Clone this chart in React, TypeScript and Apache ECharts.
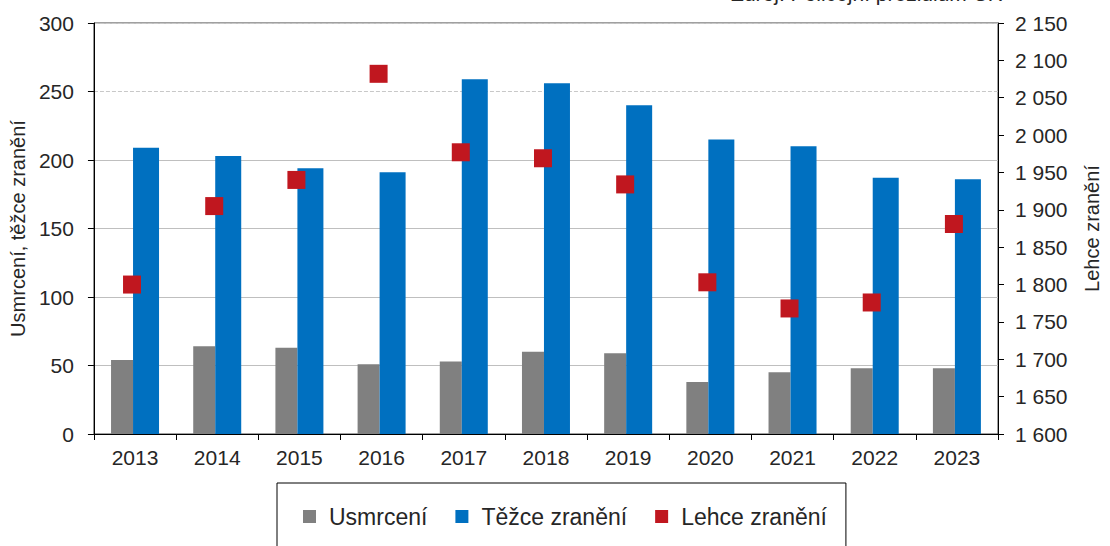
import React, { useEffect, useRef } from "react";
import * as echarts from "echarts";

const years = ["2013", "2014", "2015", "2016", "2017", "2018", "2019", "2020", "2021", "2022", "2023"];
const usmrceni = [54, 64, 63, 51, 53, 60, 59, 38, 45, 48, 48];
const tezce = [209, 203, 194, 191, 259, 256, 240, 215, 210, 187, 186];
const lehce = [1800, 1905, 1940, 2082, 1977, 1969, 1934, 1803, 1768, 1776, 1881];

const FONT = "'Liberation Sans', Arial, sans-serif";
const TXT = "#262626";

function fmt(v: number) {
  const s = String(v);
  return s.length > 3 ? s.slice(0, s.length - 3) + " " + s.slice(-3) : s;
}

export default function App() {
  const ref = useRef<HTMLDivElement>(null);
  useEffect(() => {
    document.body.style.margin = "0";
    const chart = echarts.init(ref.current!, null, { renderer: "svg" });
    chart.setOption({
      animation: false,
      textStyle: { fontFamily: FONT },
      grid: { left: 92, right: 107, top: 23, bottom: 112, show: true, borderColor: "#404040", borderWidth: 1 },
      legend: {
        left: 277,
        top: 483,
        padding: [22, 19, 40, 26],
        borderColor: "#000",
        borderWidth: 1,
        itemGap: 28,
        itemWidth: 13,
        itemHeight: 13,
        textStyle: { fontSize: 23, color: TXT, fontFamily: FONT, padding: [0, 0, 0, 8] },
        data: [
          { name: "Usmrcení", icon: "rect" },
          { name: "Těžce zranění", icon: "rect" },
          { name: "Lehce zranění", icon: "rect" },
        ],
      },
      graphic: [
        {
          type: "text",
          right: 107,
          top: -17,
          style: { text: "Zdroj: Policejní prezidium ČR", font: `21px ${FONT}`, fill: TXT },
        },
      ],
      xAxis: {
        type: "category",
        data: years,
        axisLine: { lineStyle: { color: "#000", width: 1 } },
        axisTick: { show: true, length: 6, lineStyle: { color: "#000" } },
        axisLabel: { fontSize: 21, color: TXT, margin: 13, fontFamily: FONT },
      },
      yAxis: [
        {
          type: "value",
          min: 0,
          max: 300,
          interval: 50,
          name: "Usmrcení, těžce zranění",
          nameLocation: "middle",
          nameGap: 58,
          nameTextStyle: { fontSize: 20, color: TXT, fontFamily: FONT },
          axisLine: { show: true, lineStyle: { color: "#000" } },
          axisTick: { show: true, length: 6, lineStyle: { color: "#000" } },
          axisLabel: { fontSize: 21, color: TXT, margin: 20, fontFamily: FONT },
          splitLine: {
            show: true,
            lineStyle: {
              color: ["#bfbfbf", "#bfbfbf", "#bfbfbf", "#bfbfbf", "#bfbfbf", "transparent", "#bfbfbf"],
              width: 1,
            },
          },
        },
        {
          type: "value",
          min: 1600,
          max: 2150,
          interval: 50,
          position: "right",
          name: "Lehce zranění",
          nameLocation: "middle",
          nameGap: 84,
          nameRotate: 90,
          nameTextStyle: { fontSize: 20, color: TXT, fontFamily: FONT },
          axisLine: { show: true, lineStyle: { color: "#000" } },
          axisTick: { show: true, length: 6, lineStyle: { color: "#000" } },
          axisLabel: { fontSize: 21, color: TXT, margin: 17, fontFamily: FONT, formatter: (v: number) => fmt(v) },
          splitLine: { show: false },
        },
        {
          type: "value",
          min: 0,
          max: 300,
          interval: 250,
          position: "left",
          axisLine: { show: false },
          axisTick: { show: false },
          axisLabel: { show: false },
          splitLine: { show: true, lineStyle: { color: "#c8c8c8", type: [4, 2], width: 1 } },
        },
      ],
      series: [
        {
          name: "Usmrcení",
          type: "bar",
          data: usmrceni,
          barWidth: 22,
          barGap: "0%",
          itemStyle: { color: "#808080" },
          yAxisIndex: 0,
        },
        {
          name: "Těžce zranění",
          type: "bar",
          data: tezce,
          barWidth: 26,
          barGap: "0%",
          itemStyle: { color: "#0070C0" },
          yAxisIndex: 0,
        },
        {
          name: "Lehce zranění",
          type: "line",
          data: lehce,
          yAxisIndex: 1,
          symbol: "rect",
          symbolSize: 18,
          symbolOffset: [-3, 0],
          lineStyle: { width: 0, opacity: 0 },
          itemStyle: { color: "#C0171F" },
          z: 5,
        },
      ],
    });
    return () => chart.dispose();
  }, []);
  return <div ref={ref} style={{ width: 1110, height: 546 }} />;
}
